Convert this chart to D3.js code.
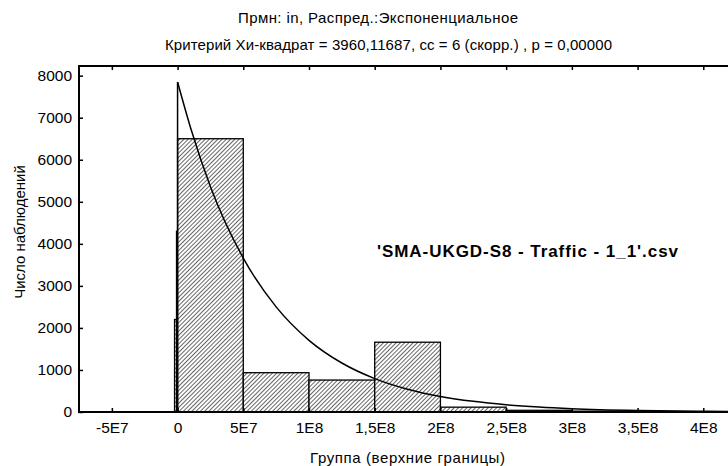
<!DOCTYPE html>
<html>
<head>
<meta charset="utf-8">
<script src="https://cdn.jsdelivr.net/npm/d3@7"></script>
<style>
body { margin: 0; background: #fff; }
svg text { font-family: "Liberation Sans", Arial, sans-serif; fill: #000; }
</style>
</head>
<body>
<div id="chart"></div>
<script>
// bins of the histogram (lower bound, upper bound, count)
var binLow = [-2.3e6, -0.8e6, 0, 5e7, 1e8, 1.5e8, 2e8, 2.5e8, 3e8, 3.5e8, 4e8];
var binHigh = [0, 0, 5e7, 1e8, 1.5e8, 2e8, 2.5e8, 3e8, 3.5e8, 4e8, 4.5e8];
var binCount = [2200, 4300, 6500, 935, 760, 1660, 115, 40, 20, 8, 4];

// expected exponential curve
var curveX = [0, 1e7, 2.5e7, 5e7, 7.5e7, 1e8, 1.25e8, 1.5e8, 1.75e8, 2e8, 2.25e8, 2.5e8, 2.75e8, 3e8, 3.5e8, 4e8, 4.5e8];
var curveY = [7850, 6750, 5360, 3660, 2500, 1705, 1165, 795, 543, 370, 253, 173, 118, 80, 37, 17, 8];

var xTicks = [-5e7, 0, 5e7, 1e8, 1.5e8, 2e8, 2.5e8, 3e8, 3.5e8, 4e8];
var xTickLabels = ["-5E7", "0", "5E7", "1E8", "1,5E8", "2E8", "2,5E8", "3E8", "3,5E8", "4E8"];
var yTicks = [0, 1000, 2000, 3000, 4000, 5000, 6000, 7000, 8000];

var width = 728, height = 466;
var svg = d3.select("#chart").append("svg")
        .attr("width", width)
        .attr("height", height);

var x = d3.scaleLinear().domain([-7.5e7, 4.5e8]).range([79, 769]);
var y = d3.scaleLinear().domain([0, 8230]).range([412, 66]);

// hatch pattern
var defs = svg.append("defs");
var pat = defs.append("pattern")
        .attr("id", "hatch")
        .attr("patternUnits", "userSpaceOnUse")
        .attr("width", 3)
        .attr("height", 3)
        .attr("patternTransform", "rotate(45)");
pat.append("rect").attr("width", 3).attr("height", 3).attr("fill", "#fff");
pat.append("line")
        .attr("x1", 0).attr("y1", 0).attr("x2", 0).attr("y2", 3)
        .attr("stroke", "#333").attr("stroke-width", 1.5);

// titles
svg.append("text")
        .attr("x", 238).attr("y", 23)
        .attr("textLength", 280).attr("lengthAdjust", "spacing")
        .style("font-size", "15px")
        .text("Прмн: in, Распред.:Экспоненциальное");
svg.append("text")
        .attr("x", 165).attr("y", 50)
        .attr("textLength", 447).attr("lengthAdjust", "spacing")
        .style("font-size", "15px")
        .text("Критерий Хи-квадрат = 3960,11687, сс = 6 (скорр.) , р = 0,00000");

// bars
var bars = d3.range(binCount.length).map(function (i) {
    return {lo: binLow[i], hi: binHigh[i], n: binCount[i]};
});
svg.append("g").selectAll("rect")
        .data(bars)
        .enter().append("rect")
        .attr("x", function (d) { return x(d.lo); })
        .attr("width", function (d) { return x(d.hi) - x(d.lo); })
        .attr("y", function (d) { return y(d.n); })
        .attr("height", function (d) { return y(0) - y(d.n); })
        .attr("fill", "url(#hatch)")
        .attr("stroke", "#000")
        .attr("stroke-width", 1.3);

// fitted curve: vertical rise at the origin, then the decay
svg.append("line")
        .attr("x1", x(curveX[0])).attr("x2", x(curveX[0]))
        .attr("y1", y(0)).attr("y2", y(curveY[0]))
        .attr("stroke", "#000")
        .attr("stroke-width", 1.5);
var pts = curveX.map(function (v, i) { return [v, curveY[i]]; });
var line = d3.line()
        .x(function (d) { return x(d[0]); })
        .y(function (d) { return y(d[1]); })
        .curve(d3.curveMonotoneX);
svg.append("path")
        .datum(pts)
        .attr("d", line)
        .attr("fill", "none")
        .attr("stroke", "#000")
        .attr("stroke-width", 1.5);

// frame
svg.append("rect")
        .attr("x", x(-7.5e7)).attr("y", y(8230))
        .attr("width", x(4.5e8) - x(-7.5e7))
        .attr("height", y(0) - y(8230))
        .attr("fill", "none")
        .attr("stroke", "#000")
        .attr("stroke-width", 2);

// axes with inward ticks
var xAxis = svg.append("g")
        .attr("transform", "translate(0," + y(0) + ")")
        .call(d3.axisBottom(x).tickValues(xTicks).tickSize(-4).tickPadding(10)
                .tickFormat(function (d, i) { return xTickLabels[i]; }));
var xTop = svg.append("g")
        .attr("transform", "translate(0," + y(8230) + ")")
        .call(d3.axisTop(x).tickValues(xTicks.concat([4.5e8])).tickSize(-4).tickFormat(""));
var yAxis = svg.append("g")
        .attr("transform", "translate(" + x(-7.5e7) + ",0)")
        .call(d3.axisLeft(y).tickValues(yTicks).tickSize(-4).tickPadding(7)
                .tickFormat(d3.format("d")));

[xAxis, xTop, yAxis].forEach(function (a) {
    a.select(".domain").remove();
    a.selectAll(".tick line").attr("stroke", "#000").attr("stroke-width", 1.5);
    a.selectAll("text").style("font-size", "15.5px").attr("fill", "#000");
});

// axis titles
svg.append("text")
        .attr("x", 310).attr("y", 463)
        .attr("textLength", 195).attr("lengthAdjust", "spacing")
        .style("font-size", "15px")
        .text("Группа (верхние границы)");
svg.append("text")
        .attr("transform", "translate(25,232) rotate(-90)")
        .attr("text-anchor", "middle")
        .style("font-size", "15px")
        .text("Число наблюдений");

// annotation
svg.append("text")
        .attr("x", 377).attr("y", 257)
        .attr("textLength", 301).attr("lengthAdjust", "spacing")
        .style("font-size", "17px")
        .style("font-weight", "bold")
        .text("'SMA-UKGD-S8 - Traffic - 1_1'.csv");
</script>
</body>
</html>
